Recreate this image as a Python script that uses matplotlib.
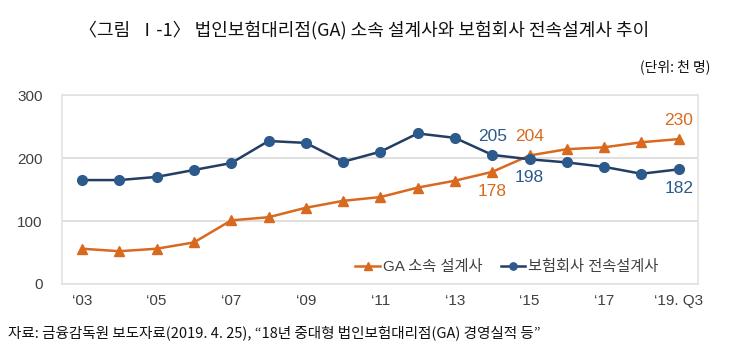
import matplotlib.pyplot as plt
import numpy as np

plt.rcParams['font.family'] = ['Liberation Sans', 'Noto Sans CJK KR', 'DejaVu Sans']
kr_font = ['Noto Sans CJK KR', 'DejaVu Sans']

# --- Data (thousand persons) ---
years = list(range(2003, 2020))
ga_agents = [56, 52, 56, 66, 101, 106, 121, 132, 138, 153, 164, 178, 204, 214, 217, 225, 230]
insurer_agents = [165, 165, 170, 181, 192, 227, 224, 194, 210, 239, 232, 205, 198, 193, 186, 175, 182]
tick_years = [2003, 2005, 2007, 2009, 2011, 2013, 2015, 2017, 2019]
tick_labels = ["‘03", "‘05", "‘07", "‘09", "‘11", "‘13", "‘15", "‘17", "‘19. Q3"]

orange = '#D9691E'
navy_line = '#243D63'
navy_marker = '#2C5A8C'
grid_col = '#D9D9D9'

fig = plt.figure(figsize=(7.29, 3.62), dpi=100)
ax = fig.add_axes([0.085, 0.2155, 0.872, 0.522])

ax.plot(years, ga_agents, color=orange, lw=1.8, marker='^', ms=7,
        markerfacecolor=orange, markeredgecolor=orange, label='GA 소속 설계사', zorder=3)
ax.plot(years, insurer_agents, color=navy_line, lw=1.8, marker='o', ms=7,
        markerfacecolor=navy_marker, markeredgecolor=navy_marker, label='보험회사 전속설계사', zorder=3)

ax.set_xlim(2002.46, 2019.51)
ax.set_ylim(0, 300)
ax.set_yticks([0, 100, 200, 300])
ax.set_xticks(tick_years)
ax.set_xticklabels(tick_labels)
ax.tick_params(length=0, labelsize=11, colors='#404040')
ax.tick_params(axis='y', pad=14)
ax.tick_params(axis='x', pad=7)
ax.yaxis.grid(True, color=grid_col, lw=1.2)
ax.set_axisbelow(True)
for s in ax.spines.values():
    s.set_color('#E3E3E3')
    s.set_linewidth(1.2)

# value labels
lab = dict(fontsize=12.5, ha='center')
ax.text(2014, 223, '205', color=navy_marker, va='bottom', **lab)
ax.text(2015, 223, '204', color=orange, va='bottom', **lab)
ax.text(2014, 159, '178', color=orange, va='top', **lab)
ax.text(2015, 181, '198', color=navy_marker, va='top', **lab)
ax.text(2019, 248, '230', color=orange, va='bottom', **lab)
ax.text(2019, 164, '182', color=navy_marker, va='top', **lab)

ax.legend(loc='center left', bbox_to_anchor=(0.44, 0.09), ncol=2, frameon=False,
          fontsize=11, handlelength=1.6, handletextpad=0.2, columnspacing=1.2,
          markerscale=0.75, labelcolor='#404040')

fig.text(0.5, 0.917, '〈그림  Ⅰ-1〉 법인보험대리점(GA) 소속 설계사와 보험회사 전속설계사 추이',
         ha='center', va='center', fontsize=13, color='#111111', family=kr_font)
fig.text(0.974, 0.815, '(단위: 천 명)', ha='right', va='center', fontsize=10,
         color='#111111', family=kr_font)
fig.text(0.011, 0.08, '자료: 금융감독원 보도자료(2019. 4. 25), “18년 중대형 법인보험대리점(GA) 경영실적 등”',
         ha='left', va='center', fontsize=10.5, color='#111111', family=kr_font)

fig.savefig('out.png', dpi=100)
